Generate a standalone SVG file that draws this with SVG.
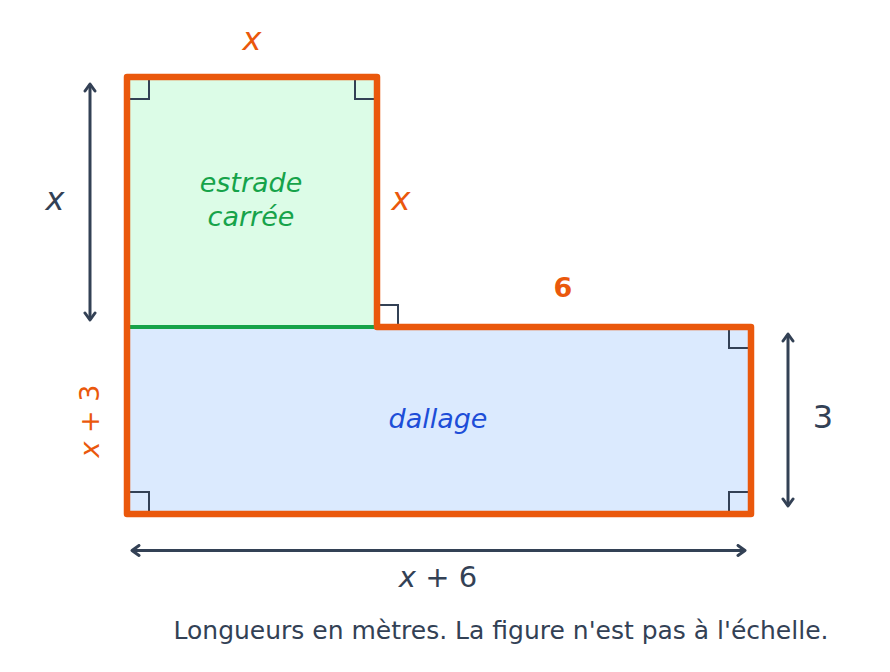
<svg xmlns="http://www.w3.org/2000/svg" width="890" height="672" viewBox="0 0 890 672">
<style>
text{font-family:"DejaVu Sans","Liberation Sans",sans-serif}
.ra{fill:none;stroke:#334155;stroke-width:2}
.dim{stroke:#334155;stroke-width:3;fill:none}
.or{fill:#EA580C}
.sl{fill:#334155}
</style>
<defs>
<marker id="ah" viewBox="-10 -7 12 14" markerWidth="12" markerHeight="14" refX="0" refY="0" orient="auto-start-reverse" markerUnits="userSpaceOnUse">
<path d="M-7,-5 L0,0 L-7,5" fill="none" stroke="#334155" stroke-width="3" stroke-linecap="round" stroke-linejoin="round"/>
</marker>
</defs>
<rect width="890" height="672" fill="#ffffff"/>
<g id="dallage">
<rect x="127" y="327" width="624" height="187" fill="#DBEAFE"/>
<text x="438" y="428" font-size="27" font-style="italic" fill="#1D4ED8" text-anchor="middle">dallage</text>
</g>
<g id="estrade">
<rect x="127" y="77" width="250" height="250" fill="#DCFCE7"/>
<line x1="127" y1="327" x2="377" y2="327" stroke="#16A34A" stroke-width="4"/>
<text x="251" y="192" font-size="27" font-style="italic" fill="#16A34A" text-anchor="middle">estrade</text>
<text x="251" y="226" font-size="27" font-style="italic" fill="#16A34A" text-anchor="middle">carrée</text>
</g>
<g id="angles">
<path class="ra" d="M127,99 H149 V77"/>
<path class="ra" d="M377,99 H355 V77"/>
<path class="ra" d="M377,305 H398 V327"/>
<path class="ra" d="M751,348 H729 V327"/>
<path class="ra" d="M751,492 H729 V514"/>
<path class="ra" d="M127,492 H149 V514"/>
</g>
<g id="outline">
<path d="M127,514 V77 H377 V327 H751 V514 Z" fill="none" stroke="#EA580C" stroke-width="6.5" stroke-linejoin="round"/>
</g>
<g id="connectors">
<line class="dim" x1="90" y1="84" x2="90" y2="320" marker-start="url(#ah)" marker-end="url(#ah)"/>
<line class="dim" x1="788" y1="334" x2="788" y2="506" marker-start="url(#ah)" marker-end="url(#ah)"/>
<line class="dim" x1="132" y1="550.5" x2="745" y2="550.5" marker-start="url(#ah)" marker-end="url(#ah)"/>
</g>
<g id="labels">
<text x="252" y="50" font-size="32" font-style="italic" class="or" text-anchor="middle">x</text>
<text x="401" y="210" font-size="32" font-style="italic" class="or" text-anchor="middle">x</text>
<text x="55" y="210" font-size="32" font-style="italic" class="sl" text-anchor="middle">x</text>
<text x="563" y="297" font-size="27" font-weight="bold" class="or" text-anchor="middle">6</text>
<text transform="translate(99,421) rotate(-90)" font-size="27" class="or" text-anchor="middle"><tspan font-style="italic">x</tspan> + 3</text>
<text x="823" y="428" font-size="32" class="sl" text-anchor="middle">3</text>
<text x="438" y="587" font-size="29" class="sl" text-anchor="middle"><tspan font-style="italic">x</tspan> + 6</text>
<text x="501" y="639" font-size="25" class="sl" text-anchor="middle">Longueurs en mètres. La figure n'est pas à l'échelle.</text>
</g>
</svg>
